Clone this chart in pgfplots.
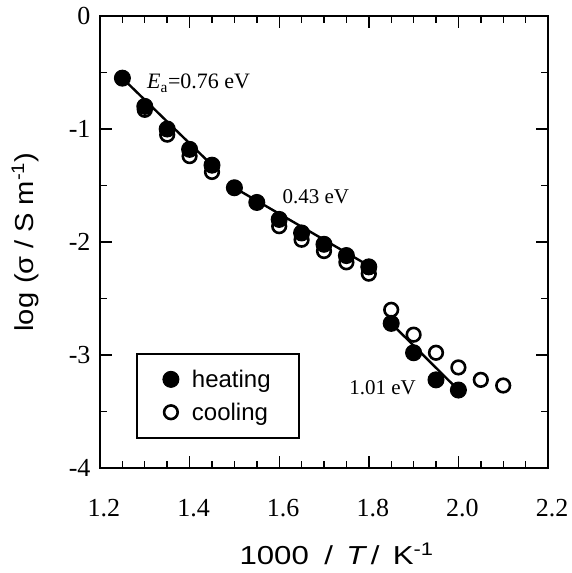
\documentclass[border=0pt]{standalone}
\usepackage{pgfplots}
\pgfplotsset{compat=1.18}
\usepackage{graphicx}
\usepackage{fontspec}
\setmainfont{Liberation Serif}
\newfontfamily\sansf{Liberation Sans}
\begin{document}
\begin{tikzpicture}
\begin{axis}[
  name=ax,
  scale only axis, width=448pt, height=452pt,
  xmin=1.2, xmax=2.2, ymin=-4, ymax=0,
  xtick={1.2,1.4,1.6,1.8,2.0,2.2},
  xticklabels={1.2,1.4,1.6,1.8,2.0,2.2},
  ytick={0,-1,-2,-3,-4},
  yticklabels={0,-1,-2,-3,-4},
  minor x tick num=3, minor y tick num=1,
  tick align=inside,
  major tick length=12pt, minor tick length=7pt,
  every tick/.style={black, line width=1.4pt},
  axis line style={line width=1.8pt},
  ticklabel style={font=\fontsize{26}{29}\selectfont},
  xticklabel style={yshift=-28pt, xshift=4pt},
  yticklabel style={xshift=-6pt},
  xlabel={\sansf\fontsize{26}{29}\selectfont\scalebox{1.2}[1]{1000\hspace{13pt}/\hspace{11pt}\textit{T}\hspace{3pt}/\hspace{11pt}K\textsuperscript{-1}}},
  ylabel={\sansf\fontsize{26}{29}\selectfont\scalebox{1.12}[1]{log\hspace{8pt}(σ\hspace{7pt}/\hspace{7pt}S\hspace{7pt}m\textsuperscript{-1})}},
  xlabel style={at={(axis description cs:0.528,-0.19)}, anchor=center},
  ylabel style={at={(axis description cs:-0.1674,0.5)}, anchor=center},
  legend style={at={(0.0804,0.2544)}, anchor=north west, draw=black, line width=1.8pt,
    font=\sansf\fontsize{24}{27}\selectfont, inner xsep=26pt, inner ysep=14pt, row sep=10pt,
    nodes={inner sep=2pt}},
  legend cell align=left,
]
\addlegendimage{only marks, mark=*, mark size=8pt, mark options={fill=black, draw=black, line width=1pt}}
\addlegendentry{\hspace{11pt}heating}
\addlegendimage{only marks, mark=o, mark size=6.8pt, mark options={draw=black, fill=white, line width=2.6pt}}
\addlegendentry{\hspace{11pt}cooling}
% fit lines
\addplot[forget plot, black, line width=2.4pt] coordinates {(1.25,-0.55) (1.45,-1.32)};
\addplot[forget plot, black, line width=2.4pt] coordinates {(1.50,-1.52) (1.80,-2.21)};
\addplot[forget plot, black, line width=2.4pt] coordinates {(1.85,-2.72) (2.00,-3.31)};
% cooling
\addplot[forget plot, only marks, mark=o, mark size=6.8pt, mark options={draw=black, fill=white, line width=2.6pt}] coordinates {
(1.30,-0.83) (1.35,-1.05) (1.40,-1.24) (1.45,-1.38)
(1.60,-1.86) (1.65,-1.98) (1.70,-2.08) (1.75,-2.18) (1.80,-2.28)
(1.85,-2.60) (1.90,-2.82) (1.95,-2.98) (2.00,-3.11) (2.05,-3.22) (2.10,-3.27)};
% heating
\addplot[forget plot, only marks, mark=*, mark size=8pt, mark options={fill=black, draw=black, line width=1pt}] coordinates {
(1.25,-0.55) (1.30,-0.80) (1.35,-1.00) (1.40,-1.18) (1.45,-1.32)
(1.50,-1.52) (1.55,-1.65) (1.60,-1.80) (1.65,-1.92) (1.70,-2.02) (1.75,-2.12) (1.80,-2.22)
(1.85,-2.72) (1.90,-2.98) (1.95,-3.22) (2.00,-3.31)};
\node[anchor=west, font=\fontsize{22}{25}\selectfont, inner sep=0pt] at (axis cs:1.305,-0.595) {\textit{E}\textsubscript{a}=0.76 eV};
\node[anchor=west, font=\fontsize{21}{24}\selectfont, inner sep=0pt] at (axis cs:1.607,-1.60) {0.43 eV};
\node[anchor=west, font=\fontsize{21}{24}\selectfont, inner sep=0pt] at (axis cs:1.756,-3.29) {1.01 eV};
\end{axis}
\path (ax.south west) ++(-100pt,-105pt) coordinate (bbA);
\path (ax.north east) ++(20pt,16pt) coordinate (bbB);
\useasboundingbox (bbA) rectangle (bbB);
\end{tikzpicture}
\end{document}
